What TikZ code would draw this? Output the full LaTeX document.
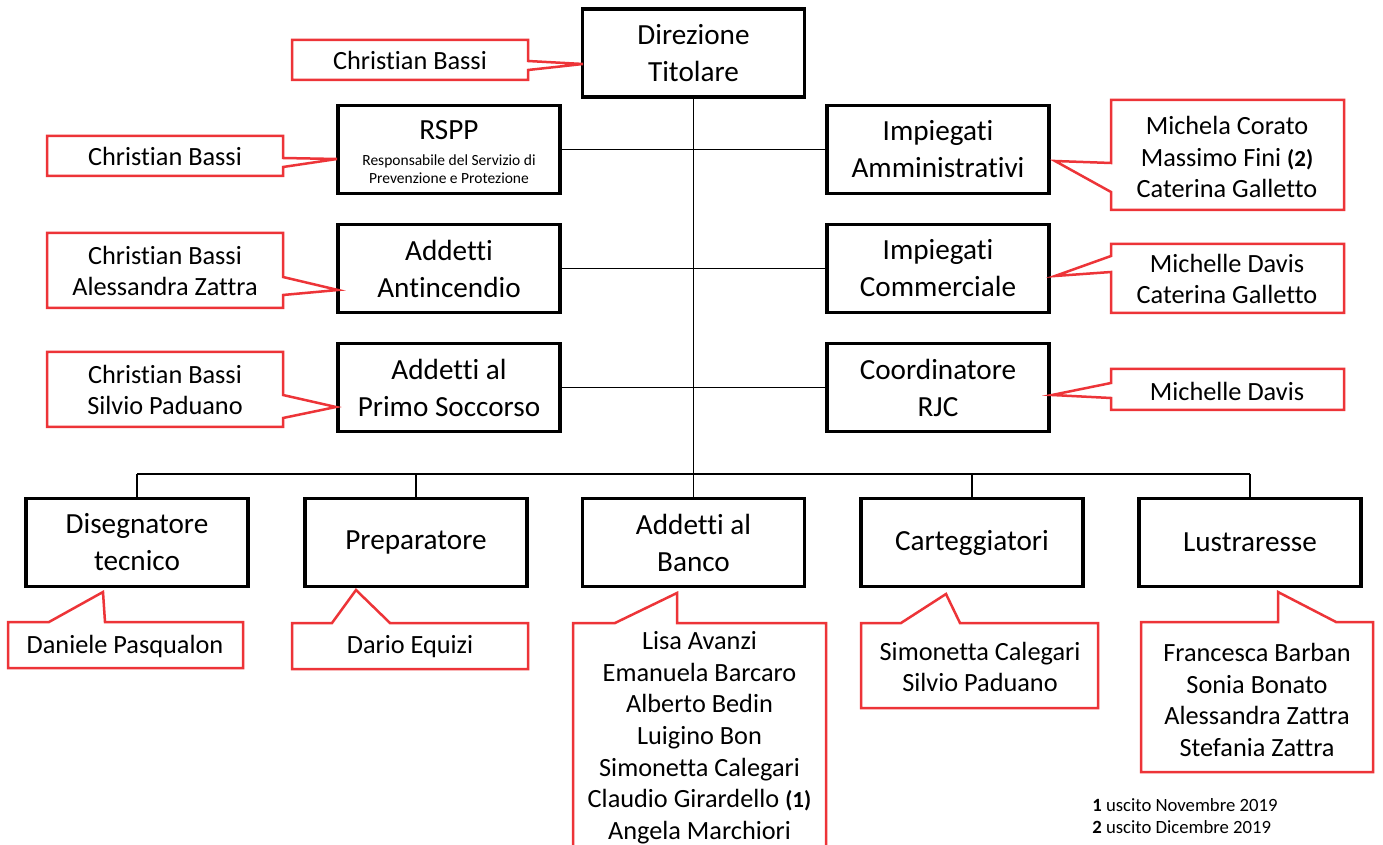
\documentclass[tikz,border=0pt]{standalone}
\usepackage{fontspec}
\setmainfont{Carlito}[Ligatures=NoCommon,RawFeature=-liga]
\definecolor{callred}{RGB}{237,52,56}
\begin{document}
\begin{tikzpicture}[x=0.5pt,y=-0.5pt,
  orgbox/.style={draw, line width=1.75pt, minimum width=111pt, minimum height=44pt,
    align=center, inner sep=0pt, font=\fontsize{14.6}{18.5}\selectfont},
  link/.style={line width=0.65pt},
  callout/.style={draw=callred, line width=1.25pt, line join=miter},
  calltext/.style={align=center, inner sep=0pt, font=\fontsize{13.15}{15.85}\selectfont},
  smalltext/.style={align=center, inner sep=0pt, font=\fontsize{7.75}{9}\selectfont},
  note/.style={align=left, inner sep=0pt, font=\fontsize{9.35}{11}\selectfont}]
\useasboundingbox (0,0) rectangle (1383,845);
\fill[white] (0,0) rectangle (1383,845);

% boxes
\node[orgbox] (dir) at (693.5,53) {Direzione\\Titolare};
\node[orgbox] (rspp) at (449,149.5) {};
\node[font=\fontsize{14.6}{18.5}\selectfont, inner sep=0pt] (rspptitle) at (449,130) {RSPP};
\node[smalltext] (rsppsub) at (449,169) {Responsabile del Servizio di\\Prevenzione e Protezione};
\node[orgbox] (amm) at (938,149.5) {Impiegati\\Amministrativi};
\node[orgbox] (anti) at (449,268.5) {Addetti\\Antincendio};
\node[orgbox] (comm) at (938,268.5) {Impiegati\\Commerciale};
\node[orgbox] (primo) at (449,387.5) {Addetti al\\Primo Soccorso};
\node[orgbox] (rjc) at (938,387.5) {Coordinatore\\RJC};

\node[orgbox] (b1) at (137,542.5) {Disegnatore\\tecnico};
\node[orgbox] (b2) at (416,542.5) {Preparatore};
\node[orgbox] (b3) at (693.5,542.5) {Addetti al\\Banco};
\node[orgbox] (b4) at (972,542.5) {Carteggiatori};
\node[orgbox] (b5) at (1250,542.5) {Lustraresse};

% connectors
\coordinate (bus) at (693.5,474);
\draw[link] (dir.south) -- (bus);
\draw[link] (b1.north |- bus) -- (b5.north |- bus);
\foreach \b in {b1,b2,b3,b4,b5} \draw[link] (\b.north) -- (\b.north |- bus);
\draw[link] (rspp.east) -- (amm.west);
\draw[link] (anti.east) -- (comm.west);
\draw[link] (primo.east) -- (rjc.west);

% callouts (left / top)
\draw[callout] (292,40) -- (528,40) -- (528,61) -- (583,64) -- (528,70) -- (528,80) -- (292,80) -- cycle;
\node[calltext] (c0) at (410,60) {Christian Bassi};

\draw[callout] (47,136) -- (283,136) -- (283,158) -- (337,159) -- (283,167) -- (283,176) -- (47,176) -- cycle;
\node[calltext] (c1) at (165,156) {Christian Bassi};

\draw[callout] (47,233) -- (283,233) -- (283,277) -- (338,290) -- (283,295) -- (283,308) -- (47,308) -- cycle;
\node[calltext] (c2) at (165,271) {Christian Bassi\\Alessandra Zattra};

\draw[callout] (47,352) -- (283,352) -- (283,395) -- (336,407) -- (283,418) -- (283,427) -- (47,427) -- cycle;
\node[calltext] (c3) at (165,390) {Christian Bassi\\Silvio Paduano};

% callouts (right)
\draw[callout] (1111,100) -- (1344,100) -- (1344,210) -- (1111,210) -- (1111,192) -- (1055,161) -- (1111,163) -- cycle;
\node[calltext] (c4) at (1227,157) {Michela Corato\\Massimo Fini {\bfseries\fontsize{11.5}{15.85}\selectfont(2)}\\Caterina Galletto};

\draw[callout] (1111,244) -- (1344,244) -- (1344,313) -- (1111,313) -- (1111,272) -- (1055,276) -- (1111,256) -- cycle;
\node[calltext] (c5) at (1227,279) {Michelle Davis\\Caterina Galletto};

\draw[callout] (1111,369) -- (1344,369) -- (1344,410) -- (1111,410) -- (1111,398) -- (1052,395) -- (1111,383) -- cycle;
\node[calltext] (c6) at (1227,391) {Michelle Davis};

% callouts (bottom)
\draw[callout] (8,622) -- (49,622) -- (103,592) -- (105,622) -- (243,622) -- (243,668) -- (8,668) -- cycle;
\node[calltext] (c7) at (125,646) {Daniele Pasqualon};

\draw[callout] (292,623) -- (332,623) -- (356,590) -- (390,623) -- (528,623) -- (528,669) -- (292,669) -- cycle;
\node[calltext] (c8) at (410,647) {Dario Equizi};

\begin{scope}
\clip (0,0) rectangle (1383,845);
\draw[callout] (573,623) -- (615,623) -- (677,593) -- (677,623) -- (826,623) -- (826,900) -- (573,900) -- cycle;
\end{scope}
\node[calltext, anchor=north] (c9) at (699.5,631) {Lisa Avanzi\\Emanuela Barcaro\\Alberto Bedin\\Luigino Bon\\Simonetta Calegari\\Claudio Girardello {\bfseries\fontsize{11.5}{15.85}\selectfont(1)}\\Angela Marchiori};

\draw[callout] (861,623) -- (901,623) -- (946,594) -- (960,623) -- (1098,623) -- (1098,708) -- (861,708) -- cycle;
\node[calltext] (c10) at (980,667) {Simonetta Calegari\\Silvio Paduano};

\draw[callout] (1141,622) -- (1278,622) -- (1278,592) -- (1336,622) -- (1373,622) -- (1373,772) -- (1141,772) -- cycle;
\node[calltext] (c11) at (1257,700) {Francesca Barban\\Sonia Bonato\\Alessandra Zattra\\Stefania Zattra};

% footnote
\node[note, anchor=north west] (fn) at (1092,798) {\textbf{1} uscito Novembre 2019\\\textbf{2} uscito Dicembre 2019};
\end{tikzpicture}
\end{document}
